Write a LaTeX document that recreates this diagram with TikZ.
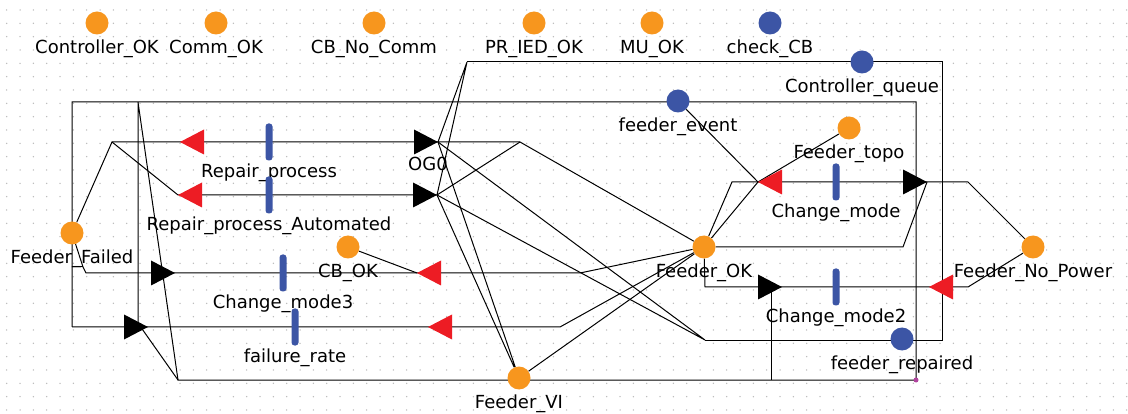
\documentclass[tikz,border=0pt]{standalone}
\usepackage{fontspec}
\setmainfont{DejaVu Sans}
\usetikzlibrary{backgrounds}
\definecolor{placeorange}{HTML}{F7961E}
\definecolor{tokenblue}{HTML}{3C55A5}
\definecolor{arcred}{HTML}{ED1C24}
\definecolor{gridgray}{HTML}{B8B8B8}
\definecolor{dotpink}{HTML}{B0449E}

\begin{document}
\begin{tikzpicture}[x=1pt, y=-1pt,
    lbl/.style={font=\fontsize{18}{20}\selectfont, inner sep=0pt, anchor=base, label distance=18.5pt},
    pl/.style={circle, fill=placeorange, minimum size=23pt, inner sep=0pt},
    plb/.style={pl, fill=tokenblue},
    bar/.style={rectangle, fill=tokenblue, rounded corners=3pt, minimum width=7pt, minimum height=37pt, inner sep=0pt},
    arc/.style={draw=black, line width=1pt},
    headR/.pic={\fill (0,0) -- (-24,-12.5) -- (-24,12.5) -- cycle;},
    headL/.pic={\fill (0,0) -- (24,-12.5) -- (24,12.5) -- cycle;}
]
    \useasboundingbox (0,0) rectangle (1128,414);

    % Places
    \node[pl, label={[lbl]below:Controller\_OK}] (ctrlok) at (97,23) {};
    \node[pl, label={[lbl]below:Comm\_OK}] (commok) at (216,23) {};
    \node[pl, label={[lbl]below:CB\_No\_Comm}] (cbnocomm) at (374,23) {};
    \node[pl, label={[lbl]below:PR\_IED\_OK}] (priedok) at (534,23) {};
    \node[pl, label={[lbl]below:MU\_OK}] (muok) at (652,23) {};
    \node[plb, label={[lbl]below:check\_CB}] (checkcb) at (770,23) {};
    \node[plb, label={[lbl]below:Controller\_queue}] (ctrlqueue) at (862,62) {};
    \node[plb, label={[lbl]below:feeder\_event}] (feederevent) at (678,101) {};
    \node[pl, label={[lbl]below:Feeder\_topo}] (feedertopo) at (849,128) {};
    \node[pl, label={[lbl]below:Feeder\_Failed}] (feederfailed) at (72,233) {};
    \node[pl, label={[lbl]below:CB\_OK}] (cbok) at (348,247) {};
    \node[pl, label={[lbl]below:Feeder\_OK}] (feederok) at (704,247) {};
    \node[pl, label={[lbl]below:Feeder\_No\_Power}] (feedernopower) at (1033,247) {};
    \node[plb, label={[lbl]below:feeder\_repaired}] (feederrepaired) at (902,339) {};
    \node[pl, label={[lbl]below:Feeder\_VI}] (feedervi) at (519,378) {};
    \node[circle, fill=dotpink, minimum size=5pt, inner sep=0pt] (endmark) at (916,380) {};

    % Transitions
    \node[bar, label={[lbl, label distance=16.5pt]below:Repair\_process}] (repair) at (269,142) {};
    \node[bar, label={[lbl, label distance=16.5pt]below:Repair\_process\_Automated}] (repairauto) at (269,195) {};
    \node[bar, label={[lbl, label distance=16.5pt]below:Change\_mode3}] (chmode3) at (283,273) {};
    \node[bar, label={[lbl, label distance=16.5pt]below:failure\_rate}] (failrate) at (295,327) {};
    \node[bar, label={[lbl, label distance=16.5pt]below:Change\_mode}] (chmode) at (836,182) {};
    \node[bar, label={[lbl, label distance=16.5pt]below:Change\_mode2}] (chmode2) at (836,287) {};
    \node[lbl] (og0) at (428,170.6) {OG0};

    % Bends
    \coordinate (boxNW) at (72,102);
    \coordinate (boxNE) at (916,102);
    \coordinate (boxSE) at (916,380);
    \coordinate (boxSW) at (178,380);
    \coordinate (boxW) at (72,327);
    \coordinate (innerN) at (138,102);
    \coordinate (innerS) at (138,327);
    \coordinate (topW) at (467,62);
    \coordinate (topE) at (942,62);
    \coordinate (rightS) at (942,340);
    \coordinate (midS) at (705,340);
    \coordinate (failBend) at (112,142);
    \coordinate (okBend) at (520,142);
    \coordinate (stubW) at (72,267);
    \coordinate (failStub) at (83,267);
    \coordinate (m3Bend) at (86,273);
    \coordinate (m3East) at (580,273);
    \coordinate (rateEast) at (560,327);
    \coordinate (rateFoot) at (140,326);
    \coordinate (cmWest) at (732,182);
    \coordinate (cmEast) at (968,182);
    \coordinate (cmFoot) at (903,247);
    \coordinate (cm2West) at (705,287);
    \coordinate (cm2East) at (968,287);
    \coordinate (cm2Drop) at (771,287);
    \coordinate (cm2Foot) at (771,380);

    % Arrow tips
    \coordinate (repTip) at (180,142);
    \coordinate (autoTip) at (178,195);
    \coordinate (ogTipA) at (438,142);
    \coordinate (ogTipB) at (437,195);
    \coordinate (m3Tip) at (175,273);
    \coordinate (rateTip) at (148,327);
    \coordinate (cbTip) at (417,273);
    \coordinate (viTip) at (428,327);
    \coordinate (cmTipL) at (758,182);
    \coordinate (cmTipR) at (927,182);
    \coordinate (cm2TipR) at (782,287);
    \coordinate (cm2TipL) at (929,287);

    \begin{scope}[on background layer]
        % Grid
        \fill[white] (0,0) rectangle (1128,414);
        \foreach \i in {0,...,84}
            \foreach \j in {0,...,30}
                \fill[gridgray] (6.7+13.333*\i, 10+13.333*\j) circle (0.75);

        % Arcs
        \draw[arc] (boxW) -- (boxNW) -- (boxNE) -- (boxSE) -- (boxSW) -- (innerN) -- (innerS);
        \draw[arc] (rateFoot) -- (boxSW);
        \draw[arc] (boxW) -- (rateEast) -- (feederok);
        \draw[arc] (stubW) -- (failStub);
        \draw[arc] (feederfailed) -- (failStub) -- (m3Bend) -- (m3East) -- (feederok);
        \draw[arc] (feederfailed) -- (failBend) -- (okBend) -- (feederok);
        \draw[arc] (failBend) -- (autoTip) -- (ogTipB) -- (okBend);
        \draw[arc] (cbok) -- (cbTip);
        \draw[arc] (topW) -- (topE) -- (rightS) -- (midS);
        \draw[arc] (ogTipA) -- (topW) -- (ogTipB);
        \draw[arc] (ogTipA) -- (feedervi) -- (ogTipB);
        \draw[arc] (ogTipA) -- (midS) -- (ogTipB);
        \draw[arc] (feedervi) -- (feederok);
        \draw[arc] (feederevent) -- (cmTipL) -- (feedertopo);
        \draw[arc] (feederok) -- (cmTipL);
        \draw[arc] (feederok) -- (cmWest) -- (cmEast) -- (feedernopower);
        \draw[arc] (feederok) -- (cmFoot) -- (cmTipR);
        \draw[arc] (feederok) -- (cm2West) -- (cm2East) -- (feedernopower);
        \draw[arc] (cm2Drop) -- (cm2Foot);
    \end{scope}

    % Heads
    \pic[color=arcred] at (repTip) {headL};
    \pic[color=arcred] at (autoTip) {headL};
    \pic[color=black] at (ogTipA) {headR};
    \pic[color=black] at (ogTipB) {headR};
    \pic[color=black] at (m3Tip) {headR};
    \pic[color=black] at (rateTip) {headR};
    \pic[color=arcred] at (cbTip) {headL};
    \pic[color=arcred] at (viTip) {headL};
    \pic[color=arcred] at (cmTipL) {headL};
    \pic[color=black] at (cmTipR) {headR};
    \pic[color=black] at (cm2TipR) {headR};
    \pic[color=arcred] at (cm2TipL) {headL};
\end{tikzpicture}
\end{document}
